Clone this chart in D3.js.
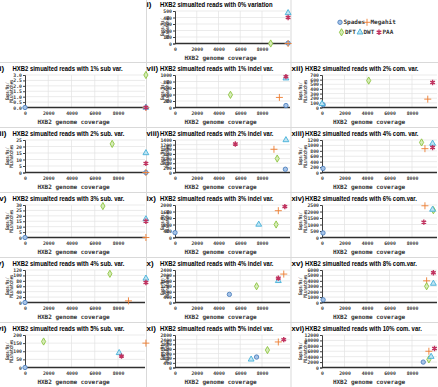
<!DOCTYPE html>
<html>
<head>
<meta charset="utf-8">
<script src="https://cdn.jsdelivr.net/npm/d3@7"></script>
<style>
body { margin: 0; background: #fff; }
</style>
</head>
<body>
<div id="chart"></div>
<script>
// panels, in reading order i) .. xvi)
const panelNums = ["i)", "ii)", "iii)", "iv)", "v)", "vi)", "vii)", "viii)", "ix)", "x)", "xi)", "xii)", "xiii)", "xiv)", "xv)", "xvi)"];
const panelTitles = [
  "HXB2 simualted reads with 0% variation",
  "HXB2 simualted reads  with 1% sub var.",
  "HXB2 simualted reads with 2% sub. var.",
  "HXB2 simualted reads with 3% sub. var.",
  "HXB2 simualted reads with 4% sub. var.",
  "HXB2 simualted reads with 5% sub. var.",
  "HXB2 simualted reads with 1% indel var.",
  "HXB2 simualted reads with 2% indel var.",
  "HXB2 simualted reads with 3% indel var.",
  "HXB2 simualted reads with 4% indel var.",
  "HXB2 simualted reads with 5% indel var.",
  "HXB2 simualted reads with 2% com. var.",
  "HXB2 simualted reads with 4% com. var.",
  "HXB2 simualted reads with 6% com.var.",
  "HXB2 simualted reads with 8% com.var.",
  "HXB2 simualted reads with 10% com. var."
];
const xTicks = [0, 2000, 4000, 6000, 8000];
const xMax = 10400;
const yMax = [500, 3, 25, 30, 120, 200, 1000, 1400, 2000, 2400, 2800, 700, 1200, 2500, 6000, 12000];
const yStep = [100, 0.5, 5, 5, 20, 50, 200, 200, 400, 400, 400, 100, 200, 500, 1000, 2000];

const tools = ["Spades", "Megahit", "DFT", "DWT", "PAA"];
// [genome coverage, gaps/Ns/mismatches] per panel
const spades = [[10400, 5], [0, 0], [10400, 0], [0, 0], [0, 0], [0, 0], [10200, 60], [10150, 140], [0, 300], [5000, 600], [7500, 900], [100, 60], [90, 150], [90, 350], [100, 500], [9000, 2000]];
const megahit = [[10400, 0], [10400, 0], [10400, 0], [10400, 0], [8900, 6], [10400, 150], [9600, 310], [9100, 1000], [9500, 1650], [10000, 2100], [9500, 2200], [9400, 180], [9150, 880], [9150, 2440], [9300, 4000], [9500, 6000]];
const dft = [[8800, 0], [10400, 3], [7500, 22], [6700, 29], [7300, 106], [1600, 160], [5100, 390], [9400, 600], [9300, 800], [7500, 1200], [8500, 1500], [4150, 580], [8850, 1110], [9900, 2100], [9300, 3000], [9500, 3000]];
const dwt = [[10400, 470], [10400, 0], [10400, 15], [10400, 17], [10400, 89], [8100, 90], [10200, 900], [10200, 1400], [7700, 800], [9500, 1600], [7000, 700], [0, 80], [9830, 1070], [9830, 2150], [9900, 3500], [9700, 4000]];
const paa = [[10400, 400], [10400, 0], [10400, 7], [10400, 15], [10400, 74], [8300, 70], [10200, 950], [5550, 1230], [10100, 1900], [9500, 1800], [10000, 2400], [9830, 540], [9830, 920], [9050, 1180], [9900, 5500], [10000, 7000]];
const series = [spades, megahit, dft, dwt, paa];

// layout
const W = 438, H = 387;
const panelCol = [1, 0, 0, 0, 0, 0, 1, 1, 1, 1, 1, 2, 2, 2, 2, 2];
const panelRow = [0, 1, 2, 3, 4, 5, 1, 2, 3, 4, 5, 1, 2, 3, 4, 5];
const cols = [
  { x0: 25, x8: 118, numX: -3, titleX: 12.5, right: 146, lab1: 7.3, lab2: 11.8 },
  { x0: 175, x8: 262, numX: 146.5, titleX: 160, right: 291, lab1: 162.5, lab2: 167.5 },
  { x0: 322, x8: 412, numX: 291.5, titleX: 305, right: 438, lab1: 300.5, lab2: 305 }
];
const rowTitle = [4, 68, 133, 198, 263, 328];

const styles = {
  Spades: { type: d3.symbolCircle, size: 15, stroke: "#4f81bd", fill: "#a7c4e8" },
  Megahit: { type: d3.symbolPlus || d3.symbolCross, size: 18, stroke: "#ed7d31", fill: "none" },
  DFT: { type: d3.symbolDiamond, size: 15, stroke: "#8cc43f", fill: "#d6ecb8" },
  DWT: { type: d3.symbolTriangle, size: 15, stroke: "#45b0d8", fill: "#bfe4f3" },
  PAA: { type: d3.symbolAsterisk || d3.symbolStar, size: 20, stroke: "#c0325f", fill: "none" }
};

const mono = "'DejaVu Sans Mono', monospace";
const sans = "'Liberation Sans', Arial, sans-serif";

const svg = d3.select("#chart").append("svg")
  .attr("width", W).attr("height", H)
  .style("display", "block");

// panel borders
const sepColor = "#d9d9d9";
svg.append("line").attr("x1", 146.5).attr("x2", 146.5).attr("y1", 0).attr("y2", H).attr("stroke", sepColor);
svg.append("line").attr("x1", 291).attr("x2", 291).attr("y1", 0).attr("y2", H).attr("stroke", sepColor);
[62, 127, 192, 257, 322].forEach(y => {
  svg.append("line").attr("x1", 0).attr("x2", W).attr("y1", y + 0.5).attr("y2", y + 0.5).attr("stroke", sepColor);
});

function drawMarker(g, tool, x, y) {
  const s = styles[tool];
  g.append("path")
    .attr("d", d3.symbol().type(s.type).size(s.size)())
    .attr("transform", `translate(${x},${y})`)
    .attr("fill", s.fill)
    .attr("stroke", s.stroke)
    .attr("stroke-width", tool === "PAA" ? 1.4 : 0.9);
}

panelNums.forEach((num, p) => {
  const c = cols[panelCol[p]];
  const t = rowTitle[panelRow[p]];
  const top = t + 7, bottom = t + 39.5;
  const g = svg.append("g");

  const x = d3.scaleLinear()
    .domain([0, xMax])
    .range([c.x0, c.x0 + (c.x8 - c.x0) * xMax / 8000]);
  const y = d3.scaleLinear().domain([0, yMax[p]]).range([bottom, top]);
  const yt = d3.range(0, yMax[p] + yStep[p] / 2, yStep[p]);

  // grid
  g.selectAll(".hg").data(yt.slice(1)).enter().append("line")
    .attr("x1", c.x0).attr("x2", c.right - 1)
    .attr("y1", d => y(d)).attr("y2", d => y(d))
    .attr("stroke", "#e3e3e3").attr("stroke-width", 0.7);
  g.selectAll(".vg").data(xTicks.slice(1)).enter().append("line")
    .attr("x1", d => x(d)).attr("x2", d => x(d))
    .attr("y1", top).attr("y2", bottom)
    .attr("stroke", "#e3e3e3").attr("stroke-width", 0.7);

  // axes
  const fmt = yStep[p] < 1 ? d3.format(".1f") : d3.format("d");
  const ya = g.append("g").attr("transform", `translate(${c.x0},0)`)
    .call(d3.axisLeft(y).tickValues(yt).tickSize(2).tickPadding(1).tickFormat(fmt));
  ya.select(".domain").attr("stroke", "#404040").attr("stroke-width", 1);
  ya.selectAll(".tick line").attr("stroke", "#404040");
  ya.selectAll("text").attr("font-family", mono).attr("font-size", 4.8).attr("font-weight", "bold").attr("fill", "#333");

  const xa = g.append("g").attr("transform", `translate(0,${bottom})`)
    .call(d3.axisBottom(x).tickValues(xTicks).tickSize(0).tickPadding(4.5).tickFormat(d3.format("d")));
  xa.select(".domain").attr("d", `M${c.x0},0H${c.right - 1}`).attr("stroke", "#303030").attr("stroke-width", 1.3);
  xa.selectAll("text").attr("font-family", mono).attr("font-size", 4.8).attr("font-weight", "bold").attr("fill", "#333");

  // titles
  const titleX = p === 0 ? 160 : c.titleX;
  const nt = g.append("text").attr("x", c.numX).attr("y", t + 2.8)
    .attr("font-family", sans).attr("font-weight", "bold").attr("font-size", 8)
    .text(num);
  const nw = nt.node().getComputedTextLength();
  const nroom = titleX - Math.max(c.numX, 0) - 0.8;
  if (p !== 0 && c.numX + nw > titleX - 0.8) {
    nt.attr("textLength", Math.max(nroom, 4)).attr("lengthAdjust", "spacingAndGlyphs")
      .attr("x", Math.max(c.numX, 0));
  }
  const tt = g.append("text").attr("x", titleX).attr("y", t + 2.8)
    .attr("font-family", sans).attr("font-weight", "bold").attr("font-size", 8)
    .text(panelTitles[p]);
  const natural = tt.node().getComputedTextLength();
  const room = c.right - titleX - 1.5;
  tt.attr("textLength", Math.min(natural * 0.74, room)).attr("lengthAdjust", "spacingAndGlyphs");

  // axis titles
  g.append("text").attr("x", (c.x0 + c.x8) / 2 + 2).attr("y", t + 55.5)
    .attr("text-anchor", "middle")
    .attr("font-family", mono).attr("font-weight", "bold").attr("font-size", 6)
    .attr("fill", "#333").text("HXB2 genome coverage");
  const mid = (top + bottom) / 2;
  [["Gaps/Ns/", c.lab1, 18], ["Mismatches", c.lab2, 23]].forEach(([s, lx, len]) => {
    g.append("text")
      .attr("transform", `translate(${lx + 1.5},${mid}) rotate(-90)`)
      .attr("text-anchor", "middle")
      .attr("font-family", mono).attr("font-weight", "bold").attr("font-size", 5)
      .attr("textLength", len).attr("lengthAdjust", "spacingAndGlyphs")
      .attr("fill", "#333").text(s);
  });

  // points
  tools.forEach((tool, k) => {
    const d = series[k][p];
    drawMarker(g, tool, x(d[0]), y(d[1]));
  });
});

// legend
const lg = svg.append("g");
const legendRows = [[["Spades", 340], ["Megahit", 367]], [["DFT", 341.5], ["DWT", 360], ["PAA", 379]]];
legendRows.forEach((row, r) => {
  const ly = 22.3 + r * 10;
  row.forEach(([tool, lx]) => {
    drawMarker(lg, tool, lx, ly);
    lg.append("text").attr("x", lx + 3.5).attr("y", ly + 2)
      .attr("font-family", mono).attr("font-weight", "bold").attr("font-size", 6)
      .attr("fill", "#333").text(tool);
  });
});
</script>
</body>
</html>
